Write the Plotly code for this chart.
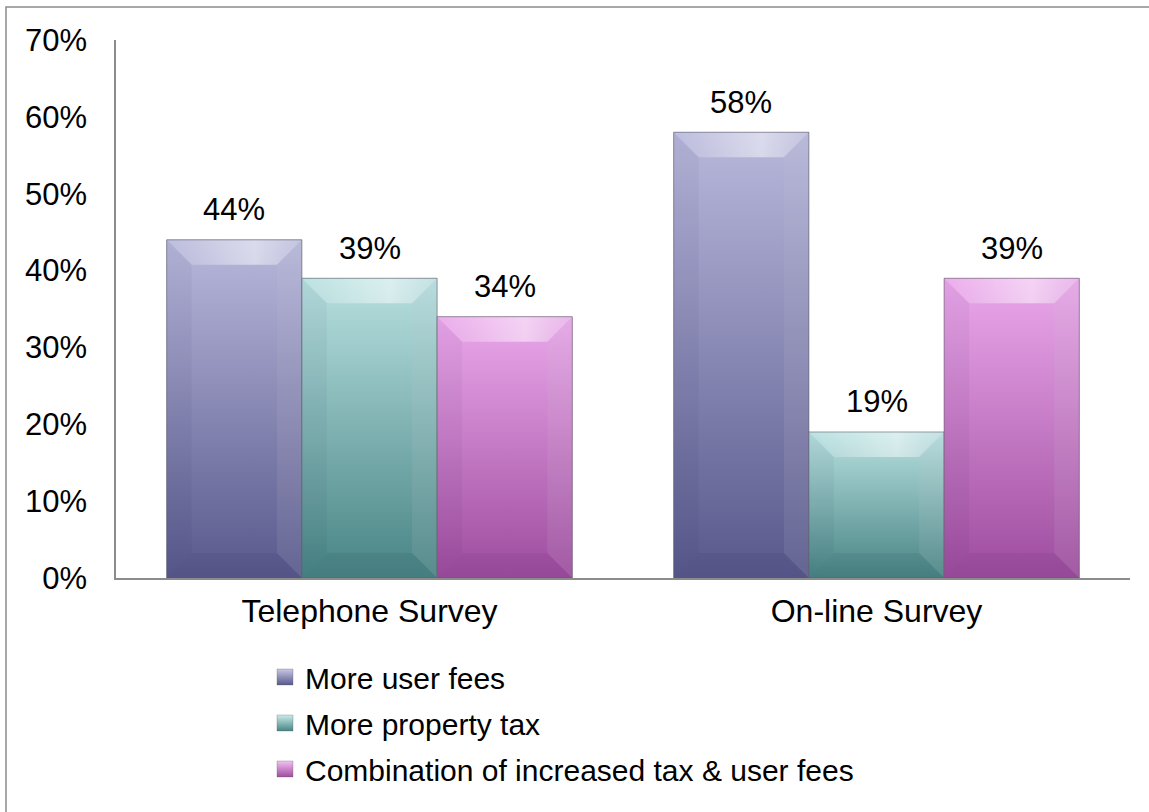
import plotly.graph_objects as go

# ---- data ----
categories = ["Telephone Survey", "On-line Survey"]
series_names = ["More user fees", "More property tax",
                "Combination of increased tax & user fees"]
more_user_fees = [0.44, 0.58]
more_property_tax = [0.39, 0.19]
combination = [0.34, 0.39]
y_ticks = [0, 0.1, 0.2, 0.3, 0.4, 0.5, 0.6, 0.7]
y_tick_labels = ["0%", "10%", "20%", "30%", "40%", "50%", "60%", "70%"]

series_values = [more_user_fees, more_property_tax, combination]

# ---- styling ----
W, H = 1149, 812
M_L, M_R, M_T, M_B = 116, 19, 40, 234
FONT = "Arial, 'Liberation Sans', sans-serif"
FS = 31
FS_X = 32
FS_LEGEND = 30
base_colors = ["#8585BE", "#7FB3B3", "#CC80CC"]
top_colors = ["#B8B8DC", "#B8E0E0", "#EBA8EB"]
bottom_colors = ["#58588C", "#488484", "#9E4C9E"]
legend_light = ["#C8C8E8", "#C8ECEC", "#F4C0F4"]

BARGAP = 0.2
n_series = len(series_values)
bar_w = (1 - BARGAP) / n_series
x_pos = list(range(len(categories)))
Y_MAX = 0.7

plot_w = W - M_L - M_R
plot_h = H - M_T - M_B
x_per_px = (len(categories)) / plot_w
y_per_px = Y_MAX / plot_h
BEVEL_PX = 25
bx = BEVEL_PX * x_per_px
by = BEVEL_PX * y_per_px

fig = go.Figure()

# base bars
for s, vals in enumerate(series_values):
    fig.add_trace(go.Bar(
        x=x_pos, y=vals, name=series_names[s],
        marker=dict(color=base_colors[s], line=dict(width=0)),
        showlegend=False, hoverinfo="skip",
    ))


def poly(xs, ys):
    return list(xs) + [xs[0]], list(ys) + [ys[0]]


top_sheen = [[0, "rgba(255,255,255,0.08)"], [0.65, "rgba(255,255,255,0.50)"],
             [1, "rgba(235,235,240,0.25)"]]

# shaded face, bevels and outline for every bar
for s, vals in enumerate(series_values):
    for i, v in enumerate(vals):
        xc = x_pos[i] + (s - (n_series - 1) / 2) * bar_w
        x0, x1 = xc - bar_w / 2, xc + bar_w / 2
        y0, y1 = 0, v
        # face with vertical gradient
        px, py = poly([x0, x1, x1, x0], [y0, y0, y1, y1])
        fig.add_trace(go.Scatter(
            x=px, y=py, mode="none", fill="toself",
            fillgradient=dict(type="vertical",
                              colorscale=[[0, bottom_colors[s]], [1, top_colors[s]]]),
            showlegend=False, hoverinfo="skip"))
        # top bevel with a horizontal sheen
        qx, qy = poly([x0, x1, x1 - bx, x0 + bx], [y1, y1, y1 - by, y1 - by])
        fig.add_trace(go.Scatter(
            x=qx, y=qy, mode="none", fill="toself",
            fillgradient=dict(type="horizontal", colorscale=top_sheen),
            showlegend=False, hoverinfo="skip"))
        # right, bottom, left bevels
        bevels = [
            ([x1, x1, x1 - bx, x1 - bx], [y1, y0, y0 + by, y1 - by],
             "rgba(200,200,205,0.12)"),
            ([x0, x1, x1 - bx, x0 + bx], [y0, y0, y0 + by, y0 + by],
             "rgba(0,0,30,0.05)"),
            ([x0, x0, x0 + bx, x0 + bx], [y0, y1, y1 - by, y0 + by],
             "rgba(0,0,40,0.04)"),
        ]
        for bxs, bys, col in bevels:
            qx, qy = poly(bxs, bys)
            fig.add_trace(go.Scatter(
                x=qx, y=qy, mode="none", fill="toself", fillcolor=col,
                showlegend=False, hoverinfo="skip"))
        # outline
        fig.add_trace(go.Scatter(
            x=px, y=py, mode="lines",
            line=dict(color="rgba(95,95,105,0.6)", width=1),
            showlegend=False, hoverinfo="skip"))
        # value label
        fig.add_annotation(
            x=xc, y=v, text=f"{round(v * 100)}%", showarrow=False,
            yanchor="middle", yshift=30,
            font=dict(family=FONT, size=FS, color="#000000"))

# legend entries
for s in range(n_series):
    fig.add_trace(go.Scatter(
        x=[None], y=[None], mode="markers", name=series_names[s],
        legendgroup=f"g{s}",
        marker=dict(symbol="square", size=16, color=legend_light[s],
                    gradient=dict(type="vertical", color=bottom_colors[s]),
                    line=dict(width=0.5, color="rgba(90,90,90,0.6)")),
    ))

# chart area border
fig.add_shape(type="rect", xref="paper", yref="paper",
              x0=(6 - M_L) / plot_w, x1=(W + 20 - M_L) / plot_w,
              y0=-(H + 20 - M_T - plot_h) / plot_h, y1=1 + (M_T - 7) / plot_h,
              line=dict(color="#8C8C8C", width=1.5), fillcolor="rgba(0,0,0,0)",
              layer="below")

fig.update_layout(
    width=W, height=H,
    margin=dict(l=M_L, r=M_R, t=M_T, b=M_B, pad=0),
    paper_bgcolor="white", plot_bgcolor="white",
    barmode="group", bargap=BARGAP, bargroupgap=0,
    font=dict(family=FONT, size=FS, color="#000000"),
    showlegend=True,
    legend=dict(
        orientation="v", x=(265 - M_L) / plot_w, xanchor="left",
        y=-(651 - M_T - plot_h) / plot_h, yanchor="top",
        traceorder="grouped", tracegroupgap=4,
        font=dict(family=FONT, size=FS_LEGEND, color="#000000"),
        bgcolor="rgba(0,0,0,0)", borderwidth=0,
    ),
    xaxis=dict(
        range=[-0.5, len(categories) - 0.5], tickvals=x_pos, ticktext=categories,
        showgrid=False, zeroline=False, showline=True,
        linecolor="#8C8C8C", linewidth=1.5, ticks="",
        ticklabelstandoff=4, tickfont=dict(family=FONT, size=FS_X),
        fixedrange=True,
    ),
    yaxis=dict(
        range=[0, Y_MAX], tickvals=y_ticks, ticktext=y_tick_labels,
        showgrid=False, zeroline=False, showline=True,
        linecolor="#8C8C8C", linewidth=1.5, ticks="",
        ticklabelstandoff=21, tickfont=dict(family=FONT, size=FS),
        fixedrange=True,
    ),
)

fig.write_html("out.html", config={"displayModeBar": False})
